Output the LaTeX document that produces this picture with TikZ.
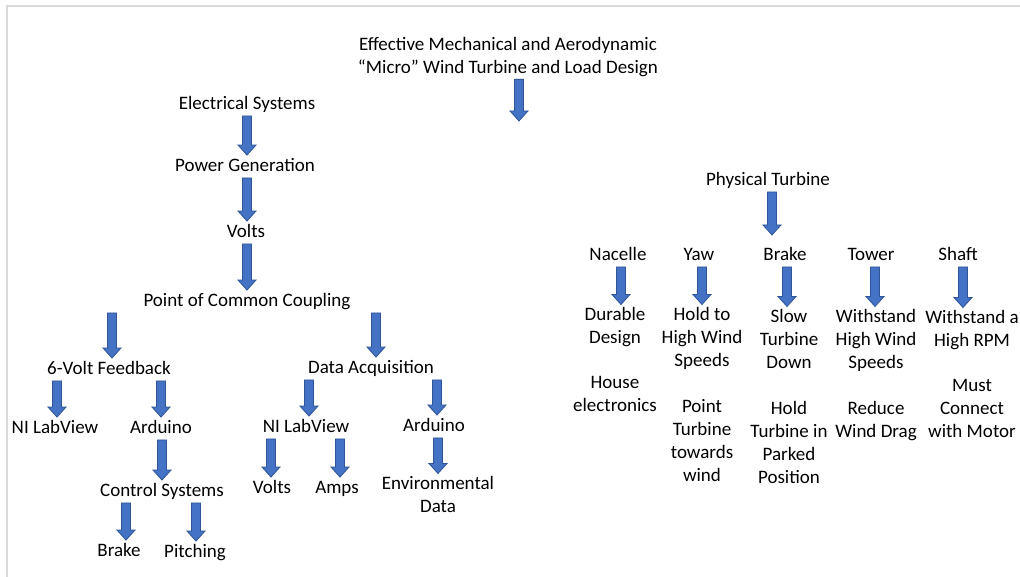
\documentclass[tikz,border=0pt]{standalone}
\usepackage{fontspec}
\setmainfont{Carlito}
\usetikzlibrary{calc}
\definecolor{ablue}{HTML}{4472C4}
\definecolor{adark}{HTML}{2F5597}
\definecolor{framegray}{HTML}{D9D9D9}
\begin{document}
\begin{tikzpicture}[x=1pt,y=-1pt,
  txt/.style={font=\fontsize{19}{23}\selectfont, inner sep=0pt, text height=13.5pt, text depth=4pt},
  mtxt/.style={font=\fontsize{19}{23}\selectfont, inner sep=0pt, align=center, anchor=north},
  ax/.store in=\arrdx, ax=0pt,
  barrow/.style={fill=ablue, draw=adark, line width=0.8pt, line join=miter,
    to path={let \p1=(\tikztostart.south), \p2=(\tikztotarget.north) in
      (\x2+\arrdx-4.5pt,\y1-2.5pt) -- (\x2+\arrdx+4.5pt,\y1-2.5pt) -- (\x2+\arrdx+4.5pt,\y2+12.5pt)
      -- (\x2+\arrdx+9pt,\y2+12.5pt) -- (\x2+\arrdx,\y2+2.5pt) -- (\x2+\arrdx-9pt,\y2+12.5pt)
      -- (\x2+\arrdx-4.5pt,\y2+12.5pt) -- cycle}},
  barrowf/.style={fill=ablue, draw=adark, line width=0.8pt, line join=miter,
    to path={let \p1=(\tikztostart.south), \p2=(\tikztotarget) in
      (\x2-4.5pt,\y1-2.5pt) -- (\x2+4.5pt,\y1-2.5pt) -- (\x2+4.5pt,\y2+10pt)
      -- (\x2+9pt,\y2+10pt) -- (\x2,\y2) -- (\x2-9pt,\y2+10pt)
      -- (\x2-4.5pt,\y2+10pt) -- cycle}}
]
\useasboundingbox (0,0) rectangle (1020,577);
\fill[white] (0,0) rectangle (1020,577);
\draw[framegray, line width=1.5pt] (7,577) -- (7,6) -- (1020,6);

\begin{scope}[shift={(0,1.5)}]
% title
\node[mtxt] (title) at (508,35.5) {Effective Mechanical and Aerodynamic\\“Micro” Wind Turbine and Load Design};
\coordinate (t1) at (519,119.5);

% electrical branch
\node[txt] (es) at (247,103) {Electrical Systems};
\node[txt] (pg) at (245,165) {Power Generation};
\node[txt] (v) at (246,231) {Volts};
\node[txt] (pcc) at (247,300) {Point of Common Coupling};
\node[txt] (fb) at (109,368) {6-Volt Feedback};
\node[txt] (da) at (371,367) {Data Acquisition};
\node[txt] (nl1) at (55,427) {NI LabView};
\node[txt] (ar1) at (161,427) {Arduino};
\node[txt] (cs) at (162,490) {Control Systems};
\node[txt] (br1) at (119,550) {Brake};
\node[txt] (pi) at (195,551) {Pitching};
\node[txt] (nl2) at (306,426) {NI LabView};
\node[txt] (ar2) at (434,425) {Arduino};
\node[txt] (v2) at (272,487) {Volts};
\node[txt] (am) at (337,487) {Amps};
\node[mtxt] (env) at (438,474.5) {Environmental\\Data};

% physical branch
\node[txt] (pt) at (768,179) {Physical Turbine};
\coordinate (t2) at (772,233.5);
\node[txt] (na) at (618,254) {Nacelle};
\node[txt] (ya) at (699,254) {Yaw};
\node[txt] (br2) at (785,254) {Brake};
\node[txt] (tw) at (871,254) {Tower};
\node[txt] (sh) at (958,254) {Shaft};
\node[mtxt] (d1) at (615,305.5) {Durable\\Design};
\node[mtxt] (d2) at (702,305.5) {Hold to\\High Wind\\Speeds};
\node[mtxt] (d3) at (789,307.5) {Slow\\Turbine\\Down};
\node[mtxt] (d4) at (876,307.5) {Withstand\\High Wind\\Speeds};
\node[mtxt] (d5) at (972,308.5) {Withstand a\\High RPM};
\node[mtxt] (e1) at (615,374.5) {House\\electronics};
\node[mtxt] (e2) at (702,397.5) {Point\\Turbine\\towards\\wind};
\node[mtxt] (e3) at (789,399.5) {Hold\\Turbine in\\Parked\\Position};
\node[mtxt] (e4) at (876,399.5) {Reduce\\Wind Drag};
\node[mtxt] (e5) at (972,377.5) {Must\\Connect\\with Motor};

% arrows
\path[barrowf] (title) to (t1);
\path[barrow, ax=2pt] (es) to (pg);
\path[barrow, ax=1pt] (pg) to (v);
\path[barrow] (v) to (pcc);
\path[barrow, ax=3pt] (pcc) to (fb);
\path[barrow, ax=5pt] (pcc) to (da);
\path[barrow, ax=2pt] (fb) to (nl1);
\path[barrow] (fb) to (ar1);
\path[barrow] (ar1) to (cs);
\path[barrow, ax=7pt] (cs) to (br1);
\path[barrow, ax=1pt] (cs) to (pi);
\path[barrow, ax=3pt] (da) to (nl2);
\path[barrow, ax=3pt] (da) to (ar2);
\path[barrow, ax=-1pt] (nl2) to (v2);
\path[barrow, ax=3pt] (nl2) to (am);
\path[barrow] (ar2) to (env);

\path[barrowf] (pt) to (t2);
\path[barrow, ax=6pt] (na) to (d1);
\path[barrow] (ya) to (d2);
\path[barrow, ax=-2pt] (br2) to (d3);
\path[barrow, ax=-1pt] (tw) to (d4);
\path[barrow, ax=-9pt] (sh) to (d5);
\end{scope}
\end{tikzpicture}
\end{document}
